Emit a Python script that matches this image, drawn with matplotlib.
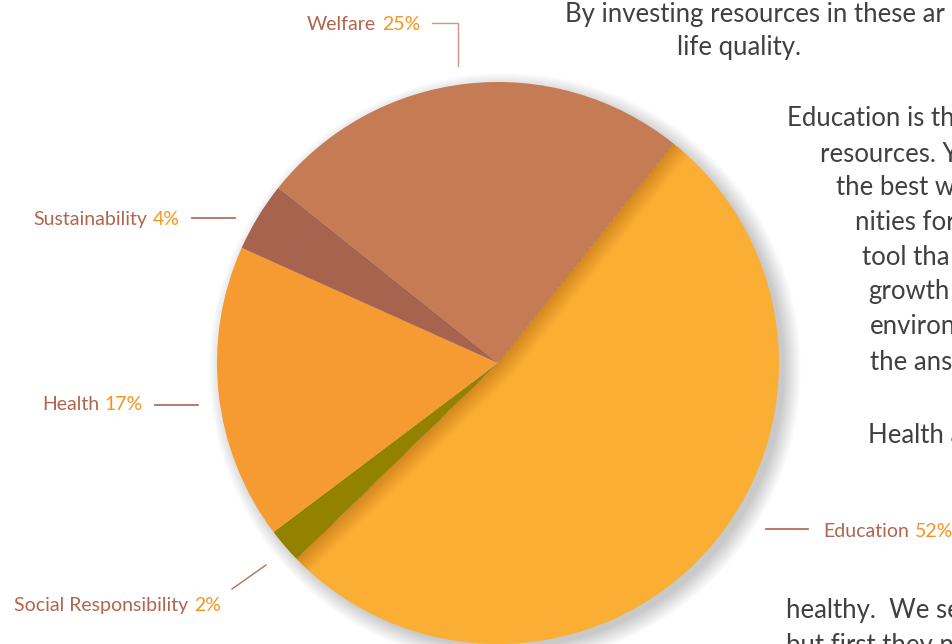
import matplotlib.pyplot as plt
from matplotlib.patches import Circle, Wedge
import numpy as np

W, H = 953, 644

# pie data (clockwise from the Welfare/Education border)
categories = ["Education", "Social Responsibility", "Health", "Sustainability", "Welfare"]
shares = [52, 2, 17, 4, 25]
colors = ["#FAAE33", "#938100", "#F69A32", "#A8634F", "#C57B54"]

# body copy along the right side of the page, as far as it is visible
body_lines = [
    "By investing resources in these ar",
    "life quality.",
    "Education is th",
    "resources. Y",
    "the best w",
    "nities for",
    "tool tha",
    "growth",
    "environ",
    "the ans",
    "Health a",
    "healthy.  We se",
    "but first they n",
]
body_pos = [(565, 22), (677, 55), (787, 126), (820, 162), (836, 195), (855, 230),
            (862, 265), (868, 299), (870, 334), (870, 370), (868, 443), (786, 618),
            (786, 653)]

label_brown = "#B0654F"
pct_orange = "#F7941D"
line_col = "#B4705C"

plt.rcParams['font.family'] = ['Lato', 'DejaVu Sans']

fig = plt.figure(figsize=(W / 100, H / 100), dpi=100)
ax = fig.add_axes([0, 0, 1, 1])

cx, cy, r = 498, H - 363, 281

# soft drop shadow behind the pie
for k in range(0, 18):
    ax.add_patch(Circle((cx + 7, cy - 6), r + k - 2, color="black", alpha=0.012, lw=0, zorder=0))

wedges, _ = ax.pie(shares, colors=colors, startangle=51.4, counterclock=False,
                   center=(cx, cy), radius=r, wedgeprops=dict(linewidth=0))
for w in wedges:
    w.set_zorder(1)

# the other slices cast a soft shadow onto the Education slice
edu = wedges[0]
perp = np.array([np.sin(np.radians(51.4)), -np.cos(np.radians(51.4))])
for d in range(1, 20):
    sh = Wedge((cx + d * perp[0], cy + d * perp[1]), r + 30, 51.4, 224.2,
               color="#5a3000", alpha=0.011, lw=0, zorder=2)
    ax.add_patch(sh)
    sh.set_clip_path(edu)

ax.set_xlim(0, W)
ax.set_ylim(0, H)
ax.set_aspect('auto')
ax.axis('off')

lfs = 14


def label_right(x, y, name, pct):
    t = ax.text(x, H - y, pct, ha='right', va='baseline', fontsize=lfs, color=pct_orange)
    ax.annotate(name, xy=(0, 0), xycoords=t, xytext=(-4, 0), textcoords='offset points',
                ha='right', va='bottom', fontsize=lfs, color=label_brown)


def label_left(x, y, name, pct):
    t = ax.text(x, H - y, name, ha='left', va='baseline', fontsize=lfs, color=label_brown)
    ax.annotate(pct, xy=(1, 0), xycoords=t, xytext=(4, 0), textcoords='offset points',
                ha='left', va='bottom', fontsize=lfs, color=pct_orange)


label_right(420, 30, "Welfare", "25%")
label_right(180, 225, "Sustainability", "4%")
label_right(143, 410, "Health", "17%")
label_right(221, 611, "Social Responsibility", "2%")
label_left(823, 537, "Education", "52%")

# leader lines
ax.plot([432, 458, 458], [H - 23, H - 23, H - 66], color="#C99684", lw=1.0)
ax.plot([192, 235], [H - 218, H - 218], color=line_col, lw=1.3)
ax.plot([155, 198], [H - 405, H - 405], color=line_col, lw=1.3)
ax.plot([232, 266], [H - 589, H - 565], color=line_col, lw=1.0)
ax.plot([766, 808], [H - 529, H - 529], color=line_col, lw=1.3)

for txt, (x, y) in zip(body_lines, body_pos):
    ax.text(x, H - y, txt, ha='left', va='baseline', fontsize=18.5, color="#404040")

fig.savefig("out.png", dpi=100)
